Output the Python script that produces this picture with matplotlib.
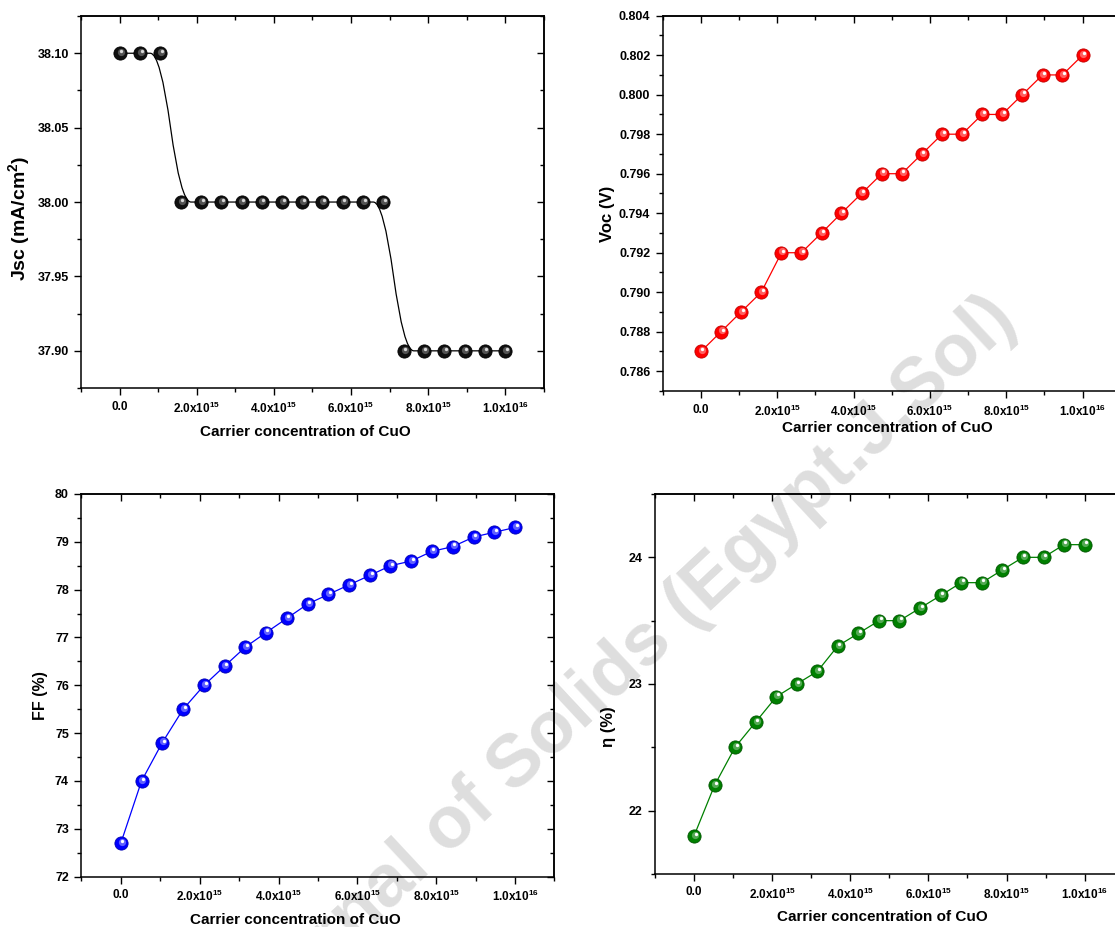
import numpy as np
import matplotlib
matplotlib.use('Agg')
import matplotlib.pyplot as plt
from matplotlib.ticker import MultipleLocator, FuncFormatter, FormatStrFormatter
from matplotlib.path import Path
from matplotlib.patches import PathPatch
from matplotlib.transforms import offset_copy

# data
conc = [0.0, 5.26e14, 1.05e15, 1.58e15, 2.11e15, 2.63e15, 3.16e15, 3.68e15, 4.21e15, 4.74e15,
        5.26e15, 5.79e15, 6.32e15, 6.84e15, 7.37e15, 7.89e15, 8.42e15, 8.95e15, 9.47e15, 1.0e16]
jsc = [38.10, 38.10, 38.10, 38.00, 38.00, 38.00, 38.00, 38.00, 38.00, 38.00,
       38.00, 38.00, 38.00, 38.00, 37.90, 37.90, 37.90, 37.90, 37.90, 37.90]
voc = [0.787, 0.788, 0.789, 0.790, 0.792, 0.792, 0.793, 0.794, 0.795, 0.796,
       0.796, 0.797, 0.798, 0.798, 0.799, 0.799, 0.800, 0.801, 0.801, 0.802]
ff = [72.7, 74.0, 74.8, 75.5, 76.0, 76.4, 76.8, 77.1, 77.4, 77.7,
      77.9, 78.1, 78.3, 78.5, 78.6, 78.8, 78.9, 79.1, 79.2, 79.3]
eta = [21.8, 22.2, 22.5, 22.7, 22.9, 23.0, 23.1, 23.3, 23.4, 23.5,
       23.5, 23.6, 23.7, 23.8, 23.8, 23.9, 24.0, 24.0, 24.1, 24.1]

xlabel = 'Carrier concentration of CuO'
watermark = 'Journal of Solids (Egypt.J.Sol)'

plt.rcParams['font.family'] = ['Liberation Sans', 'DejaVu Sans']
plt.rcParams['font.weight'] = 'bold'
plt.rcParams['axes.labelweight'] = 'bold'
plt.rcParams['mathtext.fontset'] = 'custom'
plt.rcParams['mathtext.rm'] = 'Liberation Sans:bold'
plt.rcParams['mathtext.bf'] = 'Liberation Sans:bold'
plt.rcParams['mathtext.it'] = 'Liberation Sans:bold'
plt.rcParams['mathtext.default'] = 'rm'


def sci(v, pos):
    if abs(v) < 1:
        return '0.0'
    e = int(np.floor(np.log10(abs(v)) + 1e-9))
    return '%.1fx10$^{%d}$' % (v / 10**e, e)


def frame(ax, ymaj, ymin, yfmt, ylim, mirror_y=True):
    ax.set_facecolor('none')
    ax.set_xlim(-1e15, 1.1e16)
    ax.set_ylim(*ylim)
    ax.xaxis.set_major_locator(MultipleLocator(2e15))
    ax.xaxis.set_minor_locator(MultipleLocator(1e15))
    ax.xaxis.set_major_formatter(FuncFormatter(sci))
    ax.yaxis.set_major_locator(MultipleLocator(ymaj))
    ax.yaxis.set_minor_locator(MultipleLocator(ymin))
    ax.yaxis.set_major_formatter(FormatStrFormatter(yfmt))
    ax.tick_params(which='both', direction='out', width=1.0, top=False, right=False, pad=4)
    ax.tick_params(which='major', length=5)
    ax.tick_params(which='minor', length=3)
    ax.tick_params(axis='y', labelsize=9)
    ax.tick_params(axis='x', labelsize=8.5)
    for s in ax.spines.values():
        s.set_linewidth(1.1)
    top = ax.secondary_xaxis('top')
    top.xaxis.set_major_locator(MultipleLocator(2e15))
    top.xaxis.set_minor_locator(MultipleLocator(1e15))
    top.tick_params(which='both', direction='in', width=1.0, labeltop=False)
    top.tick_params(which='major', length=5)
    top.tick_params(which='minor', length=3)
    top.spines['top'].set_linewidth(1.1)
    if mirror_y:
        right = ax.secondary_yaxis('right')
        right.yaxis.set_major_locator(MultipleLocator(ymaj))
        right.yaxis.set_minor_locator(MultipleLocator(ymin))
        right.tick_params(which='both', direction='in', width=1.0, labelright=False)
        right.tick_params(which='major', length=5)
        right.tick_params(which='minor', length=3)
        right.spines['right'].set_linewidth(1.1)


def balls(ax, x, y, body, edge, mid, hl):
    ax.plot(x, y, 'o', ms=9.5, mfc=body, mec=edge, mew=0.6, zorder=3)
    t1 = offset_copy(ax.transData, fig=ax.figure, x=0.6, y=0.9, units='points')
    ax.plot(x, y, 'o', ms=5.2, mfc=mid, mec='none', alpha=0.75, transform=t1, zorder=4)
    t2 = offset_copy(ax.transData, fig=ax.figure, x=1.1, y=1.6, units='points')
    ax.plot(x, y, 'o', ms=2.4, mfc=hl, mec='none', transform=t2, zorder=5)


fig = plt.figure(figsize=(11.15, 9.27), dpi=100)

# watermark behind everything
fig.text(0.914, 0.651, watermark, fontsize=53, fontweight='bold',
         color='#dedede', rotation=43,
         rotation_mode='anchor', ha='right', va='baseline', zorder=-1)

ax1 = fig.add_axes([0.0730, 0.5814, 0.4145, 0.4013])
ax2 = fig.add_axes([0.5944, 0.5782, 0.4108, 0.4049])
ax3 = fig.add_axes([0.0730, 0.0543, 0.4243, 0.4128])
ax4 = fig.add_axes([0.5874, 0.0572, 0.4204, 0.4099])

# Jsc: smooth (quadratic B-spline) connection with data points as control points
pts = list(zip(conc, jsc))
verts = [pts[0], ((pts[0][0] + pts[1][0]) / 2, (pts[0][1] + pts[1][1]) / 2)]
codes = [Path.MOVETO, Path.LINETO]
for i in range(1, len(pts) - 1):
    nxt = ((pts[i][0] + pts[i + 1][0]) / 2, (pts[i][1] + pts[i + 1][1]) / 2)
    verts += [pts[i], nxt]
    codes += [Path.CURVE3, Path.CURVE3]
verts.append(pts[-1])
codes.append(Path.LINETO)
ax1.add_patch(PathPatch(Path(verts, codes), fc='none', ec='black', lw=0.9, zorder=2))
balls(ax1, conc, jsc, '#101010', '#000000', '#6a6a6a', '#d8d8d8')
frame(ax1, 0.05, 0.025, '%.2f', (37.875, 38.125))
ax1.set_ylabel('Jsc (mA/cm$^2$)', fontsize=14)
ax1.yaxis.set_label_coords(-0.107, 0.456)

ax2.plot(conc, voc, color='red', lw=0.9, zorder=2)
balls(ax2, conc, voc, '#ff0000', '#c00000', '#ff8080', '#ffffff')
frame(ax2, 0.002, 0.001, '%.3f', (0.785, 0.804), mirror_y=False)
ax2.set_ylabel('Voc (V)', fontsize=12)
ax2.yaxis.set_label_coords(-0.104, 0.472)

ax3.plot(conc, ff, color='blue', lw=0.9, zorder=2)
balls(ax3, conc, ff, '#0000ff', '#0000b0', '#8080ff', '#ffffff')
frame(ax3, 1, 0.5, '%d', (72, 80))
ax3.set_ylabel('FF (%)', fontsize=11.5)
ax3.yaxis.set_label_coords(-0.0706, 0.473)

ax4.plot(conc, eta, color='green', lw=0.9, zorder=2)
balls(ax4, conc, eta, '#008000', '#005500', '#70b870', '#ffffff')
frame(ax4, 1, 0.5, '%d', (21.5, 24.5), mirror_y=False)
ax4.set_ylabel('η (%)', fontsize=12)
ax4.yaxis.set_label_coords(-0.083, 0.387)

for ax, (lx, ly) in zip([ax1, ax2, ax3, ax4],
                        [(0.484, -0.0995), (0.491, -0.08), (0.453, -0.095), (0.4855, -0.095)]):
    ax.set_xlabel(xlabel, fontsize=11)
    ax.xaxis.set_label_coords(lx, ly)

fig.savefig('out.png', dpi=100)
